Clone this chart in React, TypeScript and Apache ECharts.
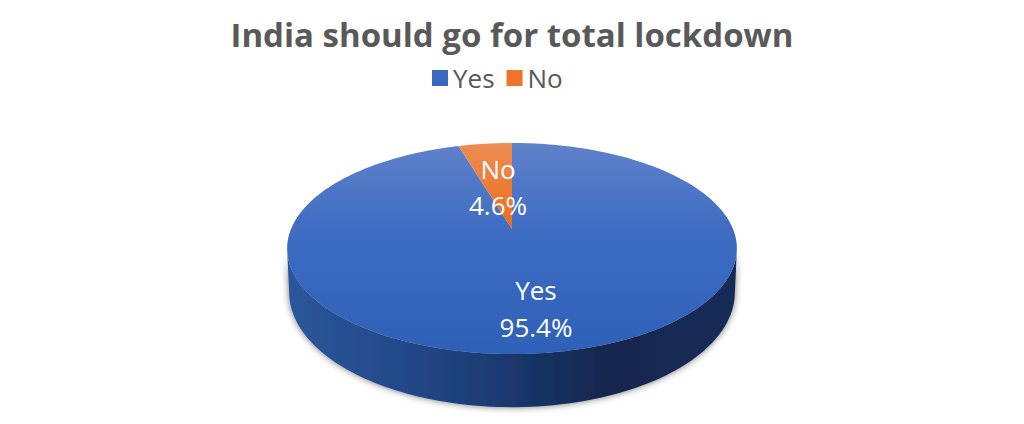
import React, { useEffect, useRef } from "react";
import * as echarts from "echarts";

const categories = ["Yes", "No"];
const shares = [95.4, 4.6];
const chartTitle = "India should go for total lockdown";

const FONT = "'Open Sans', 'Noto Sans', sans-serif";
const CX = 512;
const K = 0.185;
const TOP = { ay: 229, rx: 221, ry: 101.9 };
const BOTTOM = { ay: 271, rx: 219, ry: 111 };
const LABELS: Record<string, { x: number; y1: number; y2: number }> = {
  Yes: { x: 536, y1: 290, y2: 327 },
  No: { x: 498, y1: 169, y2: 205 },
};

function project(theta: number, p: { ay: number; rx: number; ry: number }, r = 1) {
  const u = Math.sin(theta) * r;
  const v = -Math.cos(theta) * r;
  const w = 1 - K * v;
  return [CX + (p.rx * u) / w, p.ay + (p.ry * v) / w];
}

const total = shares.reduce((a, b) => a + b, 0);

function makeRender(index: number, top: any, side: any) {
  const before = shares.slice(0, index).reduce((a, b) => a + b, 0);
  const start = (before / total) * Math.PI * 2;
  const end = ((before + shares[index]) / total) * Math.PI * 2;
  return (_params: any, _api: any) => {
    const steps = 240;
    const arc: number[][] = [];
    const topFront: number[][] = [];
    const botFront: number[][] = [];
    for (let i = 0; i <= steps; i++) {
      const t = start + ((end - start) * i) / steps;
      arc.push(project(t, TOP));
      if (-Math.cos(t) >= K) {
        topFront.push(project(t, TOP));
        botFront.push(project(t, BOTTOM));
      }
    }
    const children: any[] = [];
    if (topFront.length > 1) {
      children.push({
        type: "polygon",
        shape: { points: [...topFront, ...botFront.reverse()] },
        style: { fill: side, shadowBlur: 7, shadowColor: "rgba(0,0,0,0.55)" },
      });
    }
    children.push({
      type: "polygon",
      shape: { points: [[CX, TOP.ay], ...arc] },
      style: { fill: top },
    });
    const name = categories[index];
    const lab = LABELS[name];
    const textStyle = { fill: "#ffffff", font: `26px ${FONT}`, align: "center", verticalAlign: "middle", x: lab.x };
    children.push(
      { type: "text", z2: 10, style: { ...textStyle, text: name, y: lab.y1 } },
      { type: "text", z2: 10, style: { ...textStyle, text: `${shares[index].toFixed(1)}%`, y: lab.y2 } }
    );
    return { type: "group", children };
  };
}

export default function App() {
  const ref = useRef<HTMLDivElement>(null);
  useEffect(() => {
    const chart = echarts.init(ref.current!, null, { renderer: "svg" });
    const v = (stops: [number, string][]) =>
      new echarts.graphic.LinearGradient(0, 0, 0, 1, stops.map(([offset, color]) => ({ offset, color })));
    const sideFill = new echarts.graphic.LinearGradient(0, 0, 1, 0, [
      { offset: 0, color: "#2b5699" },
      { offset: 0.2, color: "#254c8e" },
      { offset: 0.45, color: "#1c3b74" },
      { offset: 0.7, color: "#14274f" },
      { offset: 1, color: "#162b56" },
    ]);
    const fills = [
      v([[0, "#5f81ca"], [0.45, "#3c6bc2"], [1, "#2f60b8"]]),
      v([[0, "#ee8c52"], [1, "#ec6c1c"]]),
    ];
    const legendColors = ["#3a68bd", "#ed7428"];
    chart.setOption({
      animation: false,
      title: {
        text: chartTitle,
        left: "center",
        top: 13,
        textStyle: { color: "#595959", fontFamily: FONT, fontWeight: "bold", fontSize: 33 },
      },
      legend: {
        data: categories,
        left: 427,
        top: 60,
        icon: "rect",
        itemWidth: 16,
        itemHeight: 16,
        itemGap: 12,
        textStyle: { color: "#595959", fontFamily: FONT, fontSize: 26, padding: [0, 0, 0, 0] },
      },
      series: categories.map((name, i) => ({
        type: "custom",
        name,
        coordinateSystem: "none",
        itemStyle: { color: legendColors[i] },
        silent: true,
        data: [[shares[i]]],
        renderItem: makeRender(i, fills[i], sideFill),
      })),
    });
    return () => chart.dispose();
  }, []);
  return (
    <div
      ref={ref}
      style={{ position: "fixed", left: 0, top: 0, width: 1024, height: 424, background: "#ffffff" }}
    />
  );
}
